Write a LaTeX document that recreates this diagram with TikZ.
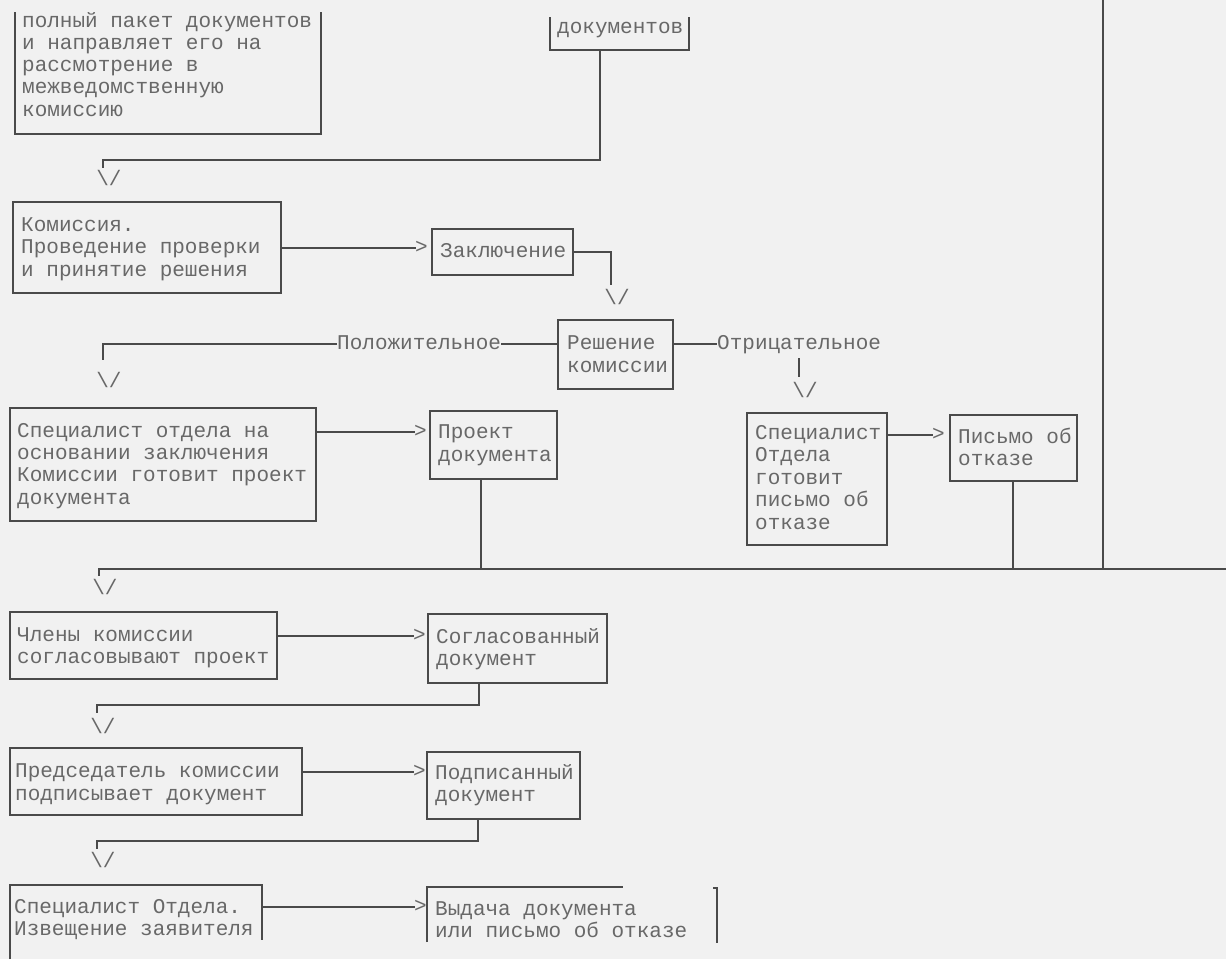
\documentclass[tikz,border=0pt]{standalone}
\usepackage{fontspec}
\newfontfamily\monofnt{Liberation Mono}
\usetikzlibrary{calc}
\definecolor{ink}{HTML}{4A4A4A}
\definecolor{txtc}{HTML}{686868}
\definecolor{paper}{HTML}{F1F1F1}
\tikzset{
  ln/.style={draw=ink, line width=1.6pt},
  box/.style={draw=ink, line width=1.6pt, rectangle, inner sep=0pt, outer sep=0pt, anchor=north west},
  txt/.style={text=txtc, font=\monofnt\fontsize{21}{22}\selectfont, inner sep=0pt, anchor=base west},
}
% #1 name, #2 x, #3 y (visual centre of first line), #4 line spacing, #5 lines
\newcommand\tlines[5]{%
  \foreach \myline [count=\i from 0] in {#5} {\node[txt] (#1\i) at (#2,{#3+5+#4*\i}) {\myline};}}
% ">" tip placed so its left point is at the given coordinate
\newcommand\tipat[2]{\node[txt, anchor=base west] (#1) at ($(#2)+(-1,5)$) {>};}
% "\/" centred under a vertical line end
\newcommand\downat[3]{\node[txt, anchor=base] (#1) at (#2,{#3+6}) {\textbackslash/};}
\begin{document}
\begin{tikzpicture}[x=1pt,y=-1pt]
\fill[paper] (0,0) rectangle (1226,959);
\useasboundingbox (0,0) rectangle (1226,959);

% Box A (top cut)
\draw[ln] (15,12) -- (15,134) -- (321,134) -- (321,12);
\tlines{A}{22}{22}{22.3}{полный пакет документов,и направляет его на,рассмотрение в,межведомственную,комиссию}

% Box B (top cut)
\draw[ln] (550,17) -- (550,50) -- (689,50) -- (689,17);
\coordinate (Bbot) at (600,50);
\tlines{B}{557}{28}{22}{документов}

% Box C
\node[box, minimum width=268pt, minimum height=91pt] (C) at (13,202) {};
\tlines{C}{21}{226}{22.5}{Комиссия.,Проведение проверки,и принятие решения}
\downat{arC}{109}{179}
\draw[ln] (Bbot) -- (600,160) -- (103,160) -- (103,168);

% Box D
\node[box, minimum width=141pt, minimum height=46pt] (D) at (432,229) {};
\tlines{D}{440}{252}{22}{Заключение}
\coordinate (aCD) at (416,248);
\tipat{gtCD}{aCD}
\draw[ln] (C.east |- aCD) -- (aCD);

% Box E
\node[box, minimum width=115pt, minimum height=69pt] (E) at (558,320) {};
\tlines{E}{567}{344}{23}{Решение,комиссии}
\coordinate (aDE) at (611,252);
\draw[ln] (D.east |- aDE) -- (aDE) -- (611,285);
\downat{arE}{617}{298}

% Positive / negative branches
\coordinate (aE) at (0,344);
\node[txt] (pos) at (337,349) {Положительное};
\draw[ln] (E.west |- aE) -- (pos.east |- aE);
\draw[ln] (pos.west |- aE) -- (103,344) -- (103,360);
\downat{arF}{109}{381}
\node[txt] (neg) at (717,349) {Отрицательное};
\draw[ln] (E.east |- aE) -- (neg.west |- aE);
\draw[ln] (799,358) -- (799,377);
\downat{arH}{805}{391}

% Box F
\node[box, minimum width=306pt, minimum height=113pt] (F) at (10,408) {};
\tlines{F}{17}{432}{22.4}{Специалист отдела на,основании заключения,Комиссии готовит проект,документа}

% Box G
\node[box, minimum width=127pt, minimum height=68pt] (G) at (430,411) {};
\tlines{G}{438}{433}{23}{Проект,документа}
\coordinate (aFG) at (415,432);
\tipat{gtFG}{aFG}
\draw[ln] (F.east |- aFG) -- (aFG);

% Box H
\node[box, minimum width=140pt, minimum height=132pt] (H) at (747,413) {};
\tlines{H}{755}{434}{22.6}{Специалист,Отдела,готовит,письмо об,отказе}

% Box I
\node[box, minimum width=127pt, minimum height=66pt] (I) at (950,415) {};
\tlines{I}{958}{438}{22.5}{Письмо об,отказе}
\coordinate (aHI) at (933,435);
\tipat{gtHI}{aHI}
\draw[ln] (H.east |- aHI) -- (aHI);

% Bus line
\coordinate (busL) at (99,569);
\coordinate (busR) at (1226,569);
\coordinate (topR) at (1103,0);
\draw[ln] (busR) -- (busL) -- (99,576);
\downat{arJ}{105}{588}
\draw[ln] ([xshift=-12.5pt]G.south) -- ([xshift=-12.5pt]G.south |- busL);
\draw[ln] ([xshift=-0.5pt]I.south) -- ([xshift=-0.5pt]I.south |- busL);
\draw[ln] (topR) -- (topR |- busL);

% Box J
\node[box, minimum width=267pt, minimum height=67pt] (J) at (10,612) {};
\tlines{J}{17}{636}{22}{Члены комиссии,согласовывают проект}
\coordinate (aJK) at (414,636);
\tipat{gtJK}{aJK}
\draw[ln] (J.east |- aJK) -- (aJK);

% Box K
\node[box, minimum width=179pt, minimum height=69pt] (K) at (428,614) {};
\tlines{K}{436}{638}{22.5}{Согласованный,документ}
\draw[ln] ([xshift=-38.5pt]K.south) |- (97,705) -- (97,713);
\downat{arL}{103}{727}

% Box L
\node[box, minimum width=292pt, minimum height=67pt] (L) at (10,748) {};
\tlines{L}{15}{772}{23}{Председатель комиссии,подписывает документ}
\coordinate (aLM) at (414,772);
\tipat{gtLM}{aLM}
\draw[ln] (L.east |- aLM) -- (aLM);

% Box M
\node[box, minimum width=153pt, minimum height=67pt] (M) at (427,752) {};
\tlines{M}{435}{774}{22.5}{Подписанный,документ}
\draw[ln] ([xshift=-25.5pt]M.south) |- (97,841) -- (97,849);
\downat{arN}{103}{861}

% Box N (bottom cut)
\draw[ln] (10,959) -- (10,885) -- (262,885) -- (262,940);
\coordinate (Ne) at (262,907);
\tlines{N}{14}{908}{22.5}{Специалист Отдела.,Извещение заявителя}
\coordinate (aNO) at (415,907);
\tipat{gtNO}{aNO}
\draw[ln] (Ne) -- (aNO);

% Box O (partial)
\draw[ln] (427,942) -- (427,887) -- (623,887);
\draw[ln] (713,888) -- (717,888) -- (717,943);
\tlines{O}{435}{910}{22.5}{Выдача документа,или письмо об отказе}
\end{tikzpicture}
\end{document}
